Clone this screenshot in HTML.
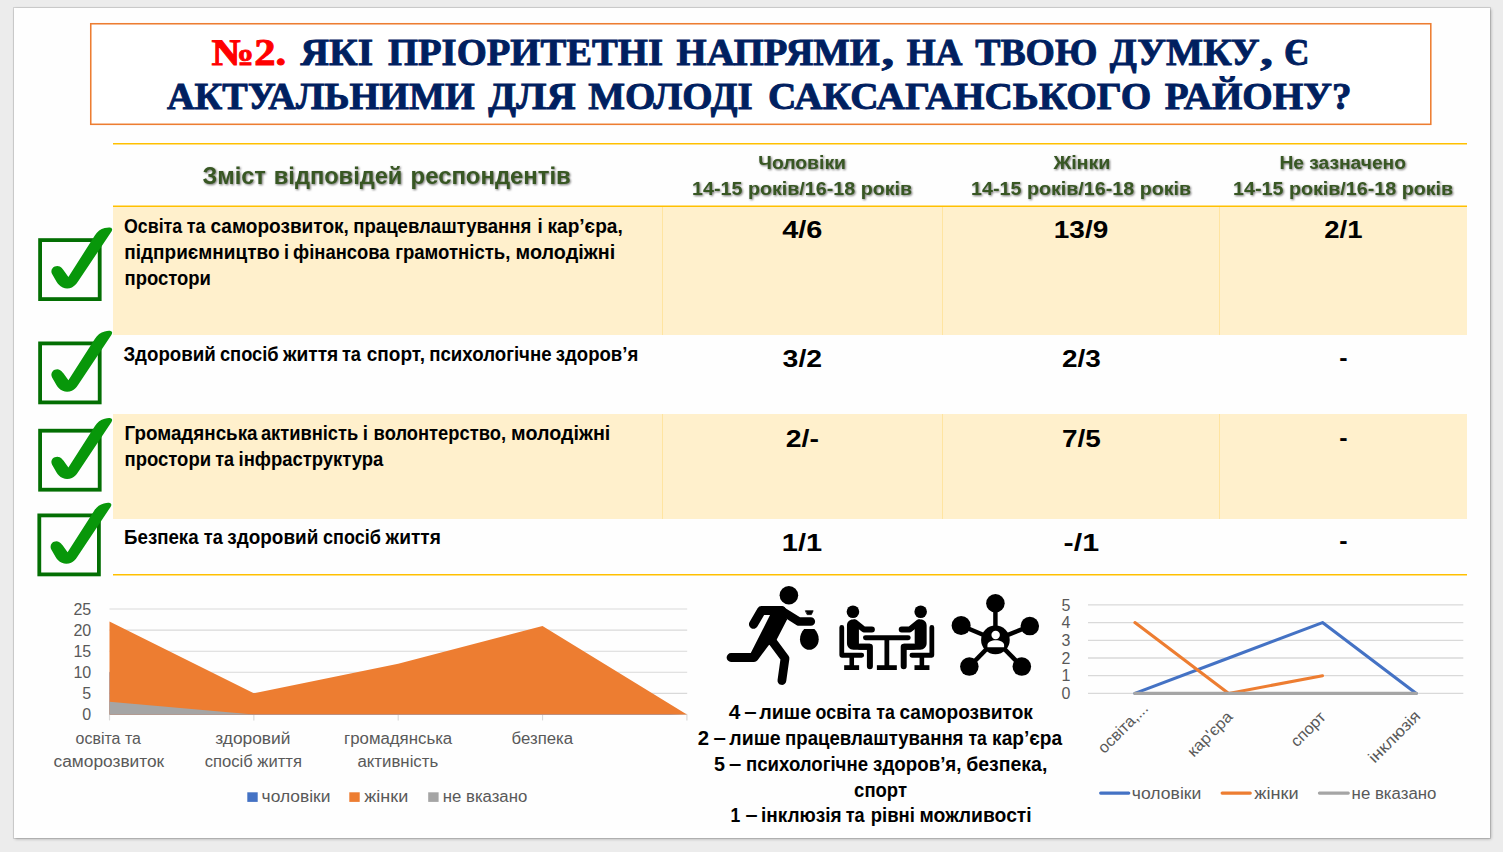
<!DOCTYPE html>
<html lang="uk">
<head>
<meta charset="utf-8">
<title>№2. Пріоритетні напрями</title>
<style>
html,body{margin:0;padding:0;}
body{width:1503px;height:852px;overflow:hidden;background:#ECECEC;position:relative;font-family:"Liberation Sans",sans-serif;}
#slide{position:absolute;left:14px;top:8px;width:1476px;height:830px;background:#FEFEFE;box-shadow:0 0 0 1px rgba(0,0,0,.10),1px 1px 3px rgba(0,0,0,.28);}
#titlebox{position:absolute;left:90px;top:23px;width:1341px;height:101px;background:#fff;}
.band{position:absolute;left:113px;width:1354px;background:#FFF0CC;}
.vd{position:absolute;width:1px;background:#FFE4A0;}
svg{position:absolute;left:0;top:0;}
svg text{font-family:"Liberation Sans",sans-serif;white-space:pre;}
svg text.sf{font-family:"Liberation Serif",serif;}
svg text.ttl{stroke-width:.9px;paint-order:stroke fill;}
.sh{filter:drop-shadow(1.3px 1.4px 0.9px rgba(0,0,0,.55));}
</style>
</head>
<body>
<div id="slide"></div>
<div id="titlebox"></div>
<div class="band" style="top:206.4px;height:128.4px"></div>
<div class="band" style="top:414.2px;height:104.6px"></div>
<div class="vd" style="left:662px;top:207px;height:128px"></div>
<div class="vd" style="left:942.2px;top:207px;height:128px"></div>
<div class="vd" style="left:1219px;top:207px;height:128px"></div>
<div class="vd" style="left:662px;top:414px;height:105px"></div>
<div class="vd" style="left:942.2px;top:414px;height:105px"></div>
<div class="vd" style="left:1219px;top:414px;height:105px"></div>
<svg width="1503" height="852" viewBox="0 0 1503 852">
<defs>
<symbol id="chk" overflow="visible">
<rect x="1.9" y="1.9" width="59.6" height="59" fill="none" stroke="#036F03" stroke-width="3.8"/>
<path d="M30.2 38.7 L56.6 -2.6 C59.3 -6.8 62.3 -9 66.5 -10.1 C69.5 -10.8 72.4 -11 73.4 -10 C74.3 -9.1 74 -7.9 73.3 -6.8 L39.8 43.4 C37.9 46.2 36.2 48 33.7 49.2 C31 50.4 27.5 50.6 24.5 49.3 C21.5 48 19.6 45.6 18.2 43.4 L13.9 35.9 C12.8 33.8 12.9 31.6 14.5 29.8 C16.2 28 19.2 27.3 21.6 28.4 C23.2 29.2 24.2 30.4 25.2 31.8 Z" fill="#08970A"/>
</symbol>
</defs>
<g id="title">
<rect x="90.75" y="23.75" width="1340.05" height="100.55" fill="none" stroke="#ED7D31" stroke-width="1.55"/>
<text class="sf ttl" x="211.5" y="64.9" font-size="37.4" font-weight="bold" textLength="74.7" lengthAdjust="spacingAndGlyphs" fill="#FF0000" stroke="#FF0000">№2.</text>
<text class="sf ttl" x="300.6" y="64.9" font-size="37.4" font-weight="bold" textLength="72.4" lengthAdjust="spacingAndGlyphs" fill="#002060" stroke="#002060">ЯКІ</text>
<text class="sf ttl" x="387.9" y="64.9" font-size="37.4" font-weight="bold" textLength="275.1" lengthAdjust="spacingAndGlyphs" fill="#002060" stroke="#002060">ПРІОРИТЕТНІ</text>
<text class="sf ttl" x="676.6" y="64.9" font-size="37.4" font-weight="bold" textLength="203.3" lengthAdjust="spacingAndGlyphs" fill="#002060" stroke="#002060">НАПРЯМИ</text>
<text class="sf ttl" x="882.1" y="64.9" font-size="37.4" font-weight="bold" fill="#002060" stroke="#002060" transform="translate(883.6 0) scale(1.35 1) translate(-883.6 0)">,</text>
<text class="sf ttl" x="906.7" y="64.9" font-size="37.4" font-weight="bold" textLength="55.8" lengthAdjust="spacingAndGlyphs" fill="#002060" stroke="#002060">НА</text>
<text class="sf ttl" x="975.3" y="64.9" font-size="37.4" font-weight="bold" textLength="122.1" lengthAdjust="spacingAndGlyphs" fill="#002060" stroke="#002060">ТВОЮ</text>
<text class="sf ttl" x="1109.7" y="64.9" font-size="37.4" font-weight="bold" textLength="150.0" lengthAdjust="spacingAndGlyphs" fill="#002060" stroke="#002060">ДУМКУ</text>
<text class="sf ttl" x="1260.8" y="64.9" font-size="37.4" font-weight="bold" fill="#002060" stroke="#002060" transform="translate(1262.3 0) scale(1.35 1) translate(-1262.3 0)">,</text>
<text class="sf ttl" x="1284.1" y="64.9" font-size="37.4" font-weight="bold" textLength="25.0" lengthAdjust="spacingAndGlyphs" fill="#002060" stroke="#002060">Є</text>
<text class="sf ttl" x="167.0" y="108.8" font-size="37.4" font-weight="bold" textLength="307.6" lengthAdjust="spacingAndGlyphs" fill="#002060" stroke="#002060">АКТУАЛЬНИМИ</text>
<text class="sf ttl" x="488.3" y="108.8" font-size="37.4" font-weight="bold" textLength="87.4" lengthAdjust="spacingAndGlyphs" fill="#002060" stroke="#002060">ДЛЯ</text>
<text class="sf ttl" x="588.2" y="108.8" font-size="37.4" font-weight="bold" textLength="164.5" lengthAdjust="spacingAndGlyphs" fill="#002060" stroke="#002060">МОЛОДІ</text>
<text class="sf ttl" x="767.9" y="108.8" font-size="37.4" font-weight="bold" textLength="383.5" lengthAdjust="spacingAndGlyphs" fill="#002060" stroke="#002060">САКСАГАНСЬКОГО</text>
<text class="sf ttl" x="1164.8" y="108.8" font-size="37.4" font-weight="bold" textLength="186.7" lengthAdjust="spacingAndGlyphs" fill="#002060" stroke="#002060">РАЙОНУ?</text>
</g>
<g id="rules" stroke="#FFC000" stroke-width="1.45">
<line x1="113" y1="143.75" x2="1467" y2="143.75"/>
<line x1="113" y1="206.3" x2="1467" y2="206.3"/>
<line x1="113" y1="574.7" x2="1467" y2="574.7"/>
</g>
<g id="thead" class="sh">
<text x="202.5" y="184.0" font-size="24" font-weight="bold" fill="#385723" textLength="63.3" lengthAdjust="spacingAndGlyphs">Зміст</text>
<text x="273.8" y="184.0" font-size="24" font-weight="bold" fill="#385723" textLength="128.6" lengthAdjust="spacingAndGlyphs">відповідей</text>
<text x="410.6" y="184.0" font-size="24" font-weight="bold" fill="#385723" textLength="160.2" lengthAdjust="spacingAndGlyphs">респондентів</text>
<text x="758.3" y="168.9" font-size="19.2" font-weight="bold" fill="#385723" textLength="87.7" lengthAdjust="spacingAndGlyphs">Чоловіки</text>
<text x="692.1" y="195.2" font-size="19.2" font-weight="bold" fill="#385723" textLength="220.0" lengthAdjust="spacingAndGlyphs">14-15 років/16-18 років</text>
<text x="1053.4" y="168.9" font-size="19.2" font-weight="bold" fill="#385723" textLength="57.0" lengthAdjust="spacingAndGlyphs">Жінки</text>
<text x="971.1" y="195.2" font-size="19.2" font-weight="bold" fill="#385723" textLength="220.0" lengthAdjust="spacingAndGlyphs">14-15 років/16-18 років</text>
<text x="1279.5" y="168.9" font-size="19.2" font-weight="bold" fill="#385723" textLength="126.4" lengthAdjust="spacingAndGlyphs">Не зазначено</text>
<text x="1233.1" y="195.2" font-size="19.2" font-weight="bold" fill="#385723" textLength="220.0" lengthAdjust="spacingAndGlyphs">14-15 років/16-18 років</text>
</g>
<g id="tbody">
<text x="124.0" y="232.5" font-size="19.3" font-weight="bold" fill="#000" textLength="58.2" lengthAdjust="spacingAndGlyphs">Освіта</text>
<text x="186.7" y="232.5" font-size="19.3" font-weight="bold" fill="#000" textLength="18.8" lengthAdjust="spacingAndGlyphs">та</text>
<text x="210.5" y="232.5" font-size="19.3" font-weight="bold" fill="#000" textLength="138.4" lengthAdjust="spacingAndGlyphs">саморозвиток,</text>
<text x="353.3" y="232.5" font-size="19.3" font-weight="bold" fill="#000" textLength="178.0" lengthAdjust="spacingAndGlyphs">працевлаштування</text>
<text x="537.5" y="232.5" font-size="19.3" font-weight="bold" fill="#000" textLength="5.2" lengthAdjust="spacingAndGlyphs">і</text>
<text x="547.5" y="232.5" font-size="19.3" font-weight="bold" fill="#000" textLength="75.2" lengthAdjust="spacingAndGlyphs">кар’єра,</text>
<text x="124.3" y="258.6" font-size="19.3" font-weight="bold" fill="#000" textLength="155.2" lengthAdjust="spacingAndGlyphs">підприємництво</text>
<text x="284.0" y="258.6" font-size="19.3" font-weight="bold" fill="#000" textLength="5.0" lengthAdjust="spacingAndGlyphs">і</text>
<text x="293.1" y="258.6" font-size="19.3" font-weight="bold" fill="#000" textLength="96.5" lengthAdjust="spacingAndGlyphs">фінансова</text>
<text x="395.2" y="258.6" font-size="19.3" font-weight="bold" fill="#000" textLength="115.2" lengthAdjust="spacingAndGlyphs">грамотність,</text>
<text x="515.6" y="258.6" font-size="19.3" font-weight="bold" fill="#000" textLength="99.6" lengthAdjust="spacingAndGlyphs">молодіжні</text>
<text x="124.5" y="284.5" font-size="19.3" font-weight="bold" fill="#000" textLength="86.4" lengthAdjust="spacingAndGlyphs">простори</text>
<text x="123.4" y="360.7" font-size="19.3" font-weight="bold" fill="#000" textLength="92.3" lengthAdjust="spacingAndGlyphs">Здоровий</text>
<text x="219.9" y="360.7" font-size="19.3" font-weight="bold" fill="#000" textLength="58.8" lengthAdjust="spacingAndGlyphs">спосіб</text>
<text x="282.9" y="360.7" font-size="19.3" font-weight="bold" fill="#000" textLength="55.4" lengthAdjust="spacingAndGlyphs">життя</text>
<text x="341.9" y="360.7" font-size="19.3" font-weight="bold" fill="#000" textLength="19.1" lengthAdjust="spacingAndGlyphs">та</text>
<text x="366.8" y="360.7" font-size="19.3" font-weight="bold" fill="#000" textLength="58.2" lengthAdjust="spacingAndGlyphs">спорт,</text>
<text x="429.2" y="360.7" font-size="19.3" font-weight="bold" fill="#000" textLength="122.4" lengthAdjust="spacingAndGlyphs">психологічне</text>
<text x="555.8" y="360.7" font-size="19.3" font-weight="bold" fill="#000" textLength="82.5" lengthAdjust="spacingAndGlyphs">здоров’я</text>
<text x="124.5" y="440.0" font-size="19.3" font-weight="bold" fill="#000" textLength="133.1" lengthAdjust="spacingAndGlyphs">Громадянська</text>
<text x="260.9" y="440.0" font-size="19.3" font-weight="bold" fill="#000" textLength="97.3" lengthAdjust="spacingAndGlyphs">активність</text>
<text x="362.8" y="440.0" font-size="19.3" font-weight="bold" fill="#000" textLength="5.2" lengthAdjust="spacingAndGlyphs">і</text>
<text x="373.6" y="440.0" font-size="19.3" font-weight="bold" fill="#000" textLength="132.4" lengthAdjust="spacingAndGlyphs">волонтерство,</text>
<text x="511.1" y="440.0" font-size="19.3" font-weight="bold" fill="#000" textLength="99.2" lengthAdjust="spacingAndGlyphs">молодіжні</text>
<text x="124.5" y="466.1" font-size="19.3" font-weight="bold" fill="#000" textLength="86.6" lengthAdjust="spacingAndGlyphs">простори</text>
<text x="215.2" y="466.1" font-size="19.3" font-weight="bold" fill="#000" textLength="18.8" lengthAdjust="spacingAndGlyphs">та</text>
<text x="238.5" y="466.1" font-size="19.3" font-weight="bold" fill="#000" textLength="144.9" lengthAdjust="spacingAndGlyphs">інфраструктура</text>
<text x="124.1" y="544.3" font-size="19.3" font-weight="bold" fill="#000" textLength="74.5" lengthAdjust="spacingAndGlyphs">Безпека</text>
<text x="203.8" y="544.3" font-size="19.3" font-weight="bold" fill="#000" textLength="19.0" lengthAdjust="spacingAndGlyphs">та</text>
<text x="227.3" y="544.3" font-size="19.3" font-weight="bold" fill="#000" textLength="91.0" lengthAdjust="spacingAndGlyphs">здоровий</text>
<text x="323.0" y="544.3" font-size="19.3" font-weight="bold" fill="#000" textLength="57.9" lengthAdjust="spacingAndGlyphs">спосіб</text>
<text x="385.6" y="544.3" font-size="19.3" font-weight="bold" fill="#000" textLength="55.2" lengthAdjust="spacingAndGlyphs">життя</text>
<text x="782.2" y="238.0" font-size="23.5" font-weight="bold" fill="#000" textLength="40.2" lengthAdjust="spacingAndGlyphs">4/6</text>
<text x="1053.8" y="238.0" font-size="23.5" font-weight="bold" fill="#000" textLength="54.4" lengthAdjust="spacingAndGlyphs">13/9</text>
<text x="1324.2" y="238.0" font-size="23.5" font-weight="bold" fill="#000" textLength="38.3" lengthAdjust="spacingAndGlyphs">2/1</text>
<text x="782.6" y="367.2" font-size="23.5" font-weight="bold" fill="#000" textLength="39.5" lengthAdjust="spacingAndGlyphs">3/2</text>
<text x="1062.0" y="367.2" font-size="23.5" font-weight="bold" fill="#000" textLength="38.8" lengthAdjust="spacingAndGlyphs">2/3</text>
<text x="1339.2" y="365.6" font-size="23.5" font-weight="bold" fill="#000" textLength="8.3" lengthAdjust="spacingAndGlyphs">-</text>
<text x="785.8" y="447.3" font-size="23.5" font-weight="bold" fill="#000" textLength="33.2" lengthAdjust="spacingAndGlyphs">2/-</text>
<text x="1062.0" y="447.3" font-size="23.5" font-weight="bold" fill="#000" textLength="38.8" lengthAdjust="spacingAndGlyphs">7/5</text>
<text x="1339.2" y="445.7" font-size="23.5" font-weight="bold" fill="#000" textLength="8.3" lengthAdjust="spacingAndGlyphs">-</text>
<text x="781.8" y="550.6" font-size="23.5" font-weight="bold" fill="#000" textLength="40.3" lengthAdjust="spacingAndGlyphs">1/1</text>
<text x="1063.6" y="550.6" font-size="23.5" font-weight="bold" fill="#000" textLength="35.5" lengthAdjust="spacingAndGlyphs">-/1</text>
<text x="1339.2" y="549.0" font-size="23.5" font-weight="bold" fill="#000" textLength="8.3" lengthAdjust="spacingAndGlyphs">-</text>
</g>
<g id="checks">
<use href="#chk" x="38.2" y="238.2"/>
<use href="#chk" x="38.2" y="341.5"/>
<use href="#chk" x="38.2" y="428.8"/>
<use href="#chk" x="37.4" y="513.5"/>
</g>
<g id="areachart">
<line x1="109.5" y1="714.4" x2="687.2" y2="714.4" stroke="#D9D9D9" stroke-width="1.15"/>
<line x1="109.5" y1="693.3" x2="687.2" y2="693.3" stroke="#D9D9D9" stroke-width="1.15"/>
<line x1="109.5" y1="672.2" x2="687.2" y2="672.2" stroke="#D9D9D9" stroke-width="1.15"/>
<line x1="109.5" y1="651.2" x2="687.2" y2="651.2" stroke="#D9D9D9" stroke-width="1.15"/>
<line x1="109.5" y1="630.1" x2="687.2" y2="630.1" stroke="#D9D9D9" stroke-width="1.15"/>
<line x1="109.5" y1="609.0" x2="687.2" y2="609.0" stroke="#D9D9D9" stroke-width="1.15"/>
<line x1="109.5" y1="714.4" x2="109.5" y2="720.4" stroke="#D9D9D9" stroke-width="1.15"/>
<line x1="253.85" y1="714.4" x2="253.85" y2="720.4" stroke="#D9D9D9" stroke-width="1.15"/>
<line x1="398.2" y1="714.4" x2="398.2" y2="720.4" stroke="#D9D9D9" stroke-width="1.15"/>
<line x1="542.55" y1="714.4" x2="542.55" y2="720.4" stroke="#D9D9D9" stroke-width="1.15"/>
<line x1="686.9" y1="714.4" x2="686.9" y2="720.4" stroke="#D9D9D9" stroke-width="1.15"/>
<polygon points="109.5,714.4 109.5,672.2 253.8,693.3 398.2,706.0 542.5,710.2 686.9,714.4 686.9,714.4" fill="#4472C4"/>
<polygon points="109.5,714.4 109.5,621.6 253.8,693.3 398.2,663.8 542.5,625.9 686.9,714.4 686.9,714.4" fill="#ED7D31"/>
<polygon points="109.5,714.4 109.5,701.8 253.8,714.4 398.2,714.4 542.5,714.4 686.9,714.4 686.9,714.4" fill="#A5A5A5"/>
<text x="91.2" y="720.1" font-size="16" font-weight="normal" fill="#595959" text-anchor="end">0</text>
<text x="91.2" y="699.0" font-size="16" font-weight="normal" fill="#595959" text-anchor="end">5</text>
<text x="91.2" y="677.9" font-size="16" font-weight="normal" fill="#595959" text-anchor="end">10</text>
<text x="91.2" y="656.9" font-size="16" font-weight="normal" fill="#595959" text-anchor="end">15</text>
<text x="91.2" y="635.8" font-size="16" font-weight="normal" fill="#595959" text-anchor="end">20</text>
<text x="91.2" y="614.7" font-size="16" font-weight="normal" fill="#595959" text-anchor="end">25</text>
<text x="75.6" y="744.0" font-size="16" font-weight="normal" fill="#595959" textLength="65.3" lengthAdjust="spacingAndGlyphs">освіта та</text>
<text x="53.6" y="767.0" font-size="16" font-weight="normal" fill="#595959" textLength="110.6" lengthAdjust="spacingAndGlyphs">саморозвиток</text>
<text x="215.2" y="744.0" font-size="16" font-weight="normal" fill="#595959" textLength="75.3" lengthAdjust="spacingAndGlyphs">здоровий</text>
<text x="204.7" y="767.0" font-size="16" font-weight="normal" fill="#595959" textLength="97.2" lengthAdjust="spacingAndGlyphs">спосіб життя</text>
<text x="344.1" y="744.0" font-size="16" font-weight="normal" fill="#595959" textLength="108.1" lengthAdjust="spacingAndGlyphs">громадянська</text>
<text x="357.5" y="767.0" font-size="16" font-weight="normal" fill="#595959" textLength="80.7" lengthAdjust="spacingAndGlyphs">активність</text>
<text x="511.6" y="744.0" font-size="16" font-weight="normal" fill="#595959" textLength="61.5" lengthAdjust="spacingAndGlyphs">безпека</text>
<rect x="247.3" y="792.3" width="10.4" height="9.6" fill="#4472C4"/>
<text x="261.6" y="802.4" font-size="16" font-weight="normal" fill="#595959" textLength="68.8" lengthAdjust="spacingAndGlyphs">чоловіки</text>
<rect x="349.3" y="792.3" width="10.4" height="9.6" fill="#ED7D31"/>
<text x="364.3" y="802.4" font-size="16" font-weight="normal" fill="#595959" textLength="43.9" lengthAdjust="spacingAndGlyphs">жінки</text>
<rect x="428.2" y="792.3" width="10.4" height="9.6" fill="#A5A5A5"/>
<text x="442.8" y="802.4" font-size="16" font-weight="normal" fill="#595959" textLength="84.4" lengthAdjust="spacingAndGlyphs">не вказано</text>
</g>
<g id="icons">
<g id="runner" transform="translate(715,580) scale(0.12917)" fill="#000" stroke="#000" stroke-linecap="round" stroke-linejoin="round">
<circle cx="572" cy="118" r="72" stroke="none"/>
<polyline points="298,343 360,236 516,236" fill="none" stroke-width="70"/>
<polyline points="516,238 650,322 742,322" fill="none" stroke-width="66"/>
<polygon points="428,268 520,202 558,306 466,484 392,512 330,598 276,568" stroke="none"/>
<polyline points="400,470 302,600 124,600" fill="none" stroke-width="68"/>
<polyline points="440,470 542,606 518,778" fill="none" stroke-width="68"/>
<path d="M690 380 H770 C790 400 803 430 803 458 C803 505 770 540 730 540 C690 540 658 505 658 458 C658 430 670 400 690 380 Z" stroke="none"/>
<polygon points="702,238 760,238 746,268 716,268" stroke-width="6"/>
</g>
<g id="meeting" transform="translate(830,595) scale(0.09974)" fill="#000" stroke="#000" stroke-linecap="round" stroke-linejoin="round">
<g id="mhalf">
<circle cx="230" cy="168" r="63" stroke="none"/>
<polyline points="118,325 118,604 318,604" fill="none" stroke-width="48"/>
<rect x="195" y="604" width="46" height="110" stroke="none"/>
<rect x="142" y="704" width="150" height="48" stroke="none"/>
<path d="M230 245 C265 245 290 270 290 305 V490 H400 V550 H235 C195 550 170 520 170 485 V305 C170 270 195 245 230 245 Z" stroke="none"/>
<polyline points="250,275 340,346 420,346" fill="none" stroke-width="60"/>
<polyline points="300,520 400,520 400,715" fill="none" stroke-width="60"/>
</g>
<use href="#mhalf" transform="translate(1139,0) scale(-1,1)"/>
<line x1="356" y1="428" x2="784" y2="428" stroke-width="50"/>
<rect x="546" y="428" width="48" height="285" stroke="none"/>
<rect x="470" y="704" width="200" height="48" stroke="none"/>
</g>
<g id="network" transform="translate(940,585) scale(0.1174)" fill="#000" stroke="#000">
<g stroke-width="38">
<line x1="472" y1="468" x2="472" y2="155"/>
<line x1="472" y1="468" x2="180" y2="345"/>
<line x1="472" y1="468" x2="765" y2="350"/>
<line x1="472" y1="468" x2="250" y2="695"/>
<line x1="472" y1="468" x2="697" y2="695"/>
</g>
<g stroke="none">
<circle cx="472" cy="468" r="122"/>
<circle cx="472" cy="155" r="79"/>
<circle cx="180" cy="345" r="81"/>
<circle cx="765" cy="350" r="79"/>
<circle cx="250" cy="695" r="79"/>
<circle cx="697" cy="695" r="79"/>
<circle cx="474" cy="426" r="36" fill="#fff"/>
<path d="M404 530 V512 C404 485 440 470 475 470 C510 470 546 485 546 512 V530 Z" fill="#fff"/>
</g>
</g>

</g>
<g id="notes">
<text x="728.7" y="719.1" font-size="19.3" font-weight="bold" fill="#000" textLength="11.6" lengthAdjust="spacingAndGlyphs">4</text>
<text x="744.2" y="718.1" font-size="19.3" font-weight="bold" fill="#000" textLength="12.4" lengthAdjust="spacingAndGlyphs">–</text>
<text x="759.2" y="719.1" font-size="19.3" font-weight="bold" fill="#000" textLength="52.0" lengthAdjust="spacingAndGlyphs">лише</text>
<text x="815.6" y="719.1" font-size="19.3" font-weight="bold" fill="#000" textLength="55.1" lengthAdjust="spacingAndGlyphs">освіта</text>
<text x="876.2" y="719.1" font-size="19.3" font-weight="bold" fill="#000" textLength="18.6" lengthAdjust="spacingAndGlyphs">та</text>
<text x="899.5" y="719.1" font-size="19.3" font-weight="bold" fill="#000" textLength="133.4" lengthAdjust="spacingAndGlyphs">саморозвиток</text>
<text x="697.7" y="745.0" font-size="19.3" font-weight="bold" fill="#000" textLength="11.3" lengthAdjust="spacingAndGlyphs">2</text>
<text x="713.4" y="744.0" font-size="19.3" font-weight="bold" fill="#000" textLength="12.4" lengthAdjust="spacingAndGlyphs">–</text>
<text x="729.3" y="745.0" font-size="19.3" font-weight="bold" fill="#000" textLength="51.4" lengthAdjust="spacingAndGlyphs">лише</text>
<text x="785.1" y="745.0" font-size="19.3" font-weight="bold" fill="#000" textLength="178.4" lengthAdjust="spacingAndGlyphs">працевлаштування</text>
<text x="968.5" y="745.0" font-size="19.3" font-weight="bold" fill="#000" textLength="18.4" lengthAdjust="spacingAndGlyphs">та</text>
<text x="992.1" y="745.0" font-size="19.3" font-weight="bold" fill="#000" textLength="70.1" lengthAdjust="spacingAndGlyphs">кар’єра</text>
<text x="714.0" y="770.9" font-size="19.3" font-weight="bold" fill="#000" textLength="11.0" lengthAdjust="spacingAndGlyphs">5</text>
<text x="729.0" y="769.9" font-size="19.3" font-weight="bold" fill="#000" textLength="12.3" lengthAdjust="spacingAndGlyphs">–</text>
<text x="746.0" y="770.9" font-size="19.3" font-weight="bold" fill="#000" textLength="122.0" lengthAdjust="spacingAndGlyphs">психологічне</text>
<text x="873.1" y="770.9" font-size="19.3" font-weight="bold" fill="#000" textLength="88.4" lengthAdjust="spacingAndGlyphs">здоров’я,</text>
<text x="966.2" y="770.9" font-size="19.3" font-weight="bold" fill="#000" textLength="81.2" lengthAdjust="spacingAndGlyphs">безпека,</text>
<text x="854.1" y="796.6" font-size="19.3" font-weight="bold" fill="#000" textLength="52.9" lengthAdjust="spacingAndGlyphs">спорт</text>
<text x="730.5" y="821.8" font-size="19.3" font-weight="bold" fill="#000" textLength="9.8" lengthAdjust="spacingAndGlyphs">1</text>
<text x="745.4" y="820.8" font-size="19.3" font-weight="bold" fill="#000" textLength="12.1" lengthAdjust="spacingAndGlyphs">–</text>
<text x="761.0" y="821.8" font-size="19.3" font-weight="bold" fill="#000" textLength="80.7" lengthAdjust="spacingAndGlyphs">інклюзія</text>
<text x="845.7" y="821.8" font-size="19.3" font-weight="bold" fill="#000" textLength="18.9" lengthAdjust="spacingAndGlyphs">та</text>
<text x="870.8" y="821.8" font-size="19.3" font-weight="bold" fill="#000" textLength="44.1" lengthAdjust="spacingAndGlyphs">рівні</text>
<text x="919.6" y="821.8" font-size="19.3" font-weight="bold" fill="#000" textLength="112.1" lengthAdjust="spacingAndGlyphs">можливості</text>
</g>
<g id="linechart">
<line x1="1088" y1="693.4" x2="1463.3" y2="693.4" stroke="#D9D9D9" stroke-width="1.3"/>
<text x="1070.4" y="699.1" font-size="16" font-weight="normal" fill="#595959" text-anchor="end">0</text>
<line x1="1088" y1="675.7" x2="1463.3" y2="675.7" stroke="#D9D9D9" stroke-width="1.3"/>
<text x="1070.4" y="681.4" font-size="16" font-weight="normal" fill="#595959" text-anchor="end">1</text>
<line x1="1088" y1="658.0" x2="1463.3" y2="658.0" stroke="#D9D9D9" stroke-width="1.3"/>
<text x="1070.4" y="663.7" font-size="16" font-weight="normal" fill="#595959" text-anchor="end">2</text>
<line x1="1088" y1="640.3" x2="1463.3" y2="640.3" stroke="#D9D9D9" stroke-width="1.3"/>
<text x="1070.4" y="646.0" font-size="16" font-weight="normal" fill="#595959" text-anchor="end">3</text>
<line x1="1088" y1="622.6" x2="1463.3" y2="622.6" stroke="#D9D9D9" stroke-width="1.3"/>
<text x="1070.4" y="628.3" font-size="16" font-weight="normal" fill="#595959" text-anchor="end">4</text>
<line x1="1088" y1="604.9" x2="1463.3" y2="604.9" stroke="#D9D9D9" stroke-width="1.3"/>
<text x="1070.4" y="610.6" font-size="16" font-weight="normal" fill="#595959" text-anchor="end">5</text>
<polyline points="1134.9,693.4 1228.7,658.0 1322.5,622.6 1416.3,693.4" fill="none" stroke="#4472C4" stroke-width="3.1" stroke-linecap="round" stroke-linejoin="round"/>
<polyline points="1134.9,622.6 1228.7,693.4 1322.5,675.7" fill="none" stroke="#ED7D31" stroke-width="3.1" stroke-linecap="round" stroke-linejoin="round"/>
<polyline points="1134.9,693.4 1228.7,693.4 1322.5,693.4 1416.3,693.4" fill="none" stroke="#A5A5A5" stroke-width="3.1" stroke-linecap="round" stroke-linejoin="round"/>
<text transform="translate(1149.2,709.3) rotate(-45)" x="-63.5" y="0" textLength="63.5" lengthAdjust="spacingAndGlyphs" font-size="16" fill="#595959">освіта,...</text>
<text transform="translate(1233.6,717.8) rotate(-45)" x="-56.5" y="0" textLength="56.5" lengthAdjust="spacingAndGlyphs" font-size="16" fill="#595959">кар&#x27;єра</text>
<text transform="translate(1326.7,718.1) rotate(-45)" x="-42" y="0" textLength="42" lengthAdjust="spacingAndGlyphs" font-size="16" fill="#595959">спорт</text>
<text transform="translate(1421.5,717) rotate(-45)" x="-66" y="0" textLength="66" lengthAdjust="spacingAndGlyphs" font-size="16" fill="#595959">інклюзія</text>
<line x1="1100.6" y1="793.1" x2="1128.8" y2="793.1" stroke="#4472C4" stroke-width="3.1" stroke-linecap="round"/>
<text x="1131.8" y="799.3" font-size="16" font-weight="normal" fill="#595959" textLength="69.5" lengthAdjust="spacingAndGlyphs">чоловіки</text>
<line x1="1222.1" y1="793.1" x2="1250.3" y2="793.1" stroke="#ED7D31" stroke-width="3.1" stroke-linecap="round"/>
<text x="1254.3" y="799.3" font-size="16" font-weight="normal" fill="#595959" textLength="44.3" lengthAdjust="spacingAndGlyphs">жінки</text>
<line x1="1319.4" y1="793.1" x2="1348.3" y2="793.1" stroke="#A5A5A5" stroke-width="3.1" stroke-linecap="round"/>
<text x="1351.6" y="799.3" font-size="16" font-weight="normal" fill="#595959" textLength="84.8" lengthAdjust="spacingAndGlyphs">не вказано</text>
</g>
</svg>
</body>
</html>
